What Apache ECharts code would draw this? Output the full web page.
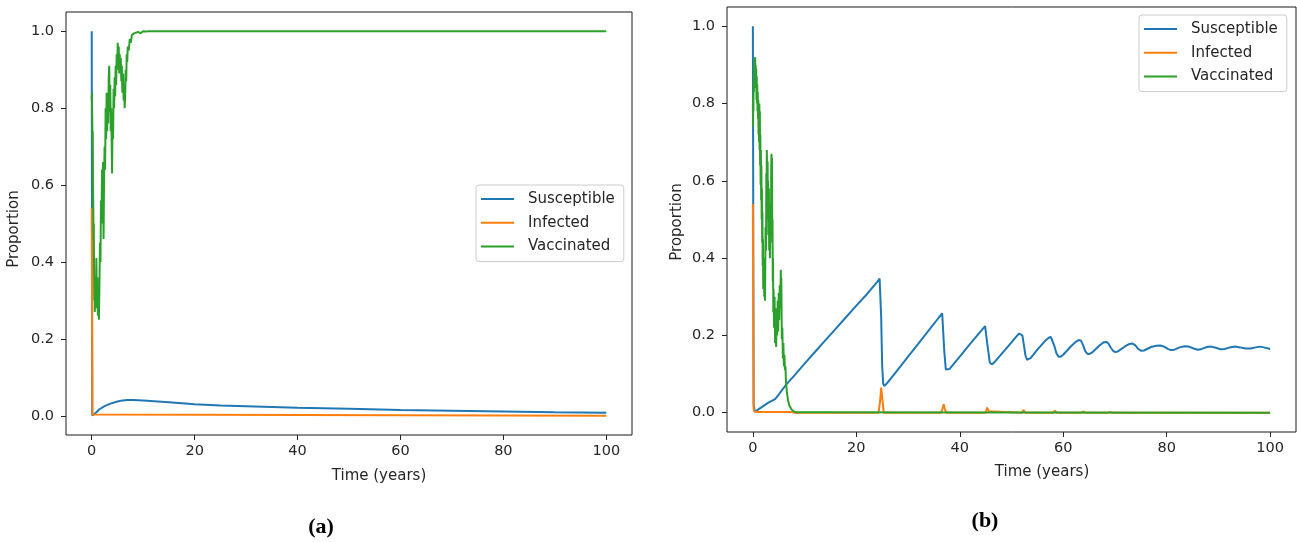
<!DOCTYPE html>
<html>
<head>
<meta charset="utf-8">
<script src="https://cdn.jsdelivr.net/npm/echarts@6/dist/echarts.min.js"></script>
<style>
html,body{margin:0;padding:0;background:#fff;}
#c{width:1297px;height:542px;}
</style>
</head>
<body>
<div id="c"></div>
<script>
// ---------- DATA ----------
var seriesNames = ['Susceptible', 'Infected', 'Vaccinated'];
var xTicks = [0, 20, 40, 60, 80, 100];
var yTicks = [0, 0.2, 0.4, 0.6, 0.8, 1.0];

// Panel (a)
var aSusceptible = [[0,1.0],[0.1,0.001],[0.3,0.0],[0.8,0.008],[1.5,0.017],[2.5,0.025],[3.5,0.031],[5,0.037],[6,0.040],[7,0.041],[8,0.041],[10,0.040],[15,0.035],[20,0.030],[25,0.027],[30,0.025],[40,0.021],[50,0.018],[60,0.015],[70,0.013],[80,0.011],[90,0.009],[100,0.008]];
var aInfected = [[0,0.54],[0.15,0.003],[0.5,0.0],[100,0.0]];
var aVaccinated = [[0,0.82],[0.03,0.84],[0.06,0.80],[0.1,0.78],[0.15,0.70],[0.2,0.74],[0.25,0.60],[0.3,0.55],[0.35,0.46],[0.4,0.50],[0.45,0.38],[0.5,0.30],[0.55,0.36],[0.6,0.27],[0.7,0.33],[0.8,0.28],[0.9,0.41],[1.0,0.30],[1.1,0.36],[1.2,0.26],[1.3,0.31],[1.4,0.25],[1.5,0.34],[1.6,0.45],[1.7,0.40],[1.8,0.56],[1.9,0.50],[2.0,0.64],[2.1,0.55],[2.2,0.66],[2.3,0.46],[2.4,0.62],[2.5,0.70],[2.6,0.64],[2.7,0.80],[2.8,0.72],[2.9,0.84],[3.0,0.74],[3.1,0.83],[3.2,0.76],[3.3,0.88],[3.4,0.91],[3.5,0.79],[3.6,0.86],[3.7,0.74],[3.8,0.80],[3.9,0.68],[3.96,0.63],[4.05,0.78],[4.15,0.72],[4.25,0.85],[4.35,0.80],[4.45,0.88],[4.55,0.83],[4.65,0.91],[4.75,0.86],[4.85,0.94],[4.95,0.90],[5.05,0.97],[5.15,0.93],[5.25,0.96],[5.35,0.89],[5.45,0.94],[5.55,0.90],[5.65,0.93],[5.75,0.87],[5.85,0.91],[5.95,0.84],[6.1,0.89],[6.2,0.82],[6.3,0.86],[6.4,0.80],[6.5,0.83],[6.6,0.90],[6.7,0.87],[6.8,0.94],[6.9,0.92],[7.0,0.96],[7.2,0.95],[7.4,0.98],[7.6,0.97],[7.8,0.99],[8.0,0.985],[8.3,0.995],[8.6,0.99],[9.0,0.998],[9.5,0.995],[10,1.0],[10.5,0.999],[11,1.0],[100,1.0]];

// Panel (b)
var bSusceptible = [[0,1.0],[0.15,0.02],[0.4,0.002],[1,0.008],[2,0.017],[3,0.026],[4.3,0.035],[5,0.047],[6.4,0.072],[8,0.096],[10,0.127],[12,0.157],[14,0.187],[16,0.217],[18,0.247],[20,0.277],[22,0.306],[24,0.338],[24.5,0.347],[24.8,0.25],[25.0,0.12],[25.2,0.075],[25.4,0.069],[25.8,0.074],[28,0.111],[30,0.145],[32,0.179],[34,0.213],[36,0.247],[36.6,0.257],[37.0,0.16],[37.3,0.112],[37.6,0.108],[38,0.113],[40,0.145],[42,0.178],[44,0.21],[44.9,0.224],[45.3,0.18],[45.8,0.13],[46.2,0.125],[46.8,0.132],[48,0.151],[50,0.182],[51.0,0.198],[51.5,0.205],[51.8,0.208],[52.1,0.200],[52.4,0.175],[52.7,0.148],[53.0,0.137],[53.3,0.136],[53.7,0.141],[55,0.163],[56.5,0.186],[57.2,0.194],[57.6,0.196],[57.9,0.192],[58.3,0.172],[58.7,0.153],[59.1,0.145],[59.5,0.145],[60.0,0.150],[61.5,0.172],[62.5,0.184],[63.0,0.188],[63.4,0.187],[63.8,0.176],[64.3,0.158],[64.7,0.152],[65.1,0.152],[65.6,0.156],[67,0.174],[67.8,0.182],[68.3,0.183],[68.7,0.180],[69.2,0.168],[69.7,0.159],[70.1,0.157],[70.5,0.158],[72,0.172],[72.8,0.178],[73.4,0.179],[73.9,0.175],[74.5,0.165],[75.1,0.160],[75.6,0.161],[77,0.170],[78,0.173],[78.8,0.174],[79.5,0.171],[80.2,0.165],[80.8,0.162],[81.5,0.163],[82.5,0.169],[83.5,0.172],[84.3,0.171],[85.2,0.166],[86,0.163],[86.8,0.165],[87.8,0.170],[88.6,0.171],[89.5,0.168],[90.4,0.164],[91.2,0.165],[92.2,0.169],[93.2,0.171],[94.2,0.169],[95.3,0.166],[96.2,0.166],[97.2,0.169],[98,0.171],[98.8,0.169],[100,0.165]];
var bInfected = [[0,0.54],[0.15,0.01],[0.3,0.003],[1,0.002],[4,0.002],[7.5,0.002],[8,0.0],[24.3,0.0],[24.6,0.03],[24.8,0.065],[25.0,0.04],[25.3,0.0],[36.4,0.0],[36.7,0.012],[36.9,0.022],[37.1,0.01],[37.4,0.0],[45.0,0.0],[45.3,0.013],[45.6,0.004],[45.9,0.0],[52.0,0.0],[52.3,0.007],[52.7,0.0],[58.0,0.0],[58.4,0.005],[58.8,0.0],[63.5,0.0],[63.9,0.003],[64.3,0.0],[68.6,0.0],[69,0.002],[69.4,0.0],[100,0.0]];
var bVaccinated = [[0,0.80],[0.03,0.74],[0.06,0.82],[0.1,0.78],[0.15,0.86],[0.2,0.83],[0.25,0.90],[0.3,0.87],[0.35,0.92],[0.4,0.89],[0.45,0.92],[0.5,0.86],[0.55,0.90],[0.6,0.84],[0.65,0.89],[0.7,0.81],[0.75,0.87],[0.8,0.80],[0.85,0.85],[0.9,0.78],[0.95,0.83],[1.0,0.76],[1.05,0.81],[1.1,0.72],[1.15,0.79],[1.2,0.70],[1.25,0.80],[1.3,0.68],[1.35,0.78],[1.4,0.64],[1.45,0.72],[1.5,0.59],[1.55,0.68],[1.6,0.55],[1.65,0.64],[1.7,0.50],[1.75,0.58],[1.8,0.44],[1.85,0.52],[1.9,0.38],[1.95,0.45],[2.0,0.32],[2.1,0.40],[2.2,0.30],[2.3,0.36],[2.35,0.29],[2.45,0.48],[2.55,0.42],[2.6,0.62],[2.65,0.55],[2.7,0.68],[2.8,0.57],[2.85,0.65],[2.9,0.50],[2.95,0.60],[3.0,0.46],[3.1,0.58],[3.15,0.42],[3.2,0.54],[3.3,0.40],[3.4,0.52],[3.5,0.46],[3.55,0.64],[3.6,0.67],[3.65,0.55],[3.7,0.66],[3.75,0.44],[3.8,0.50],[3.85,0.34],[3.9,0.40],[3.95,0.26],[4.0,0.32],[4.1,0.22],[4.2,0.30],[4.3,0.18],[4.4,0.27],[4.5,0.17],[4.6,0.25],[4.7,0.20],[4.8,0.29],[4.9,0.21],[5.0,0.31],[5.1,0.24],[5.2,0.33],[5.3,0.27],[5.4,0.37],[5.45,0.30],[5.5,0.35],[5.6,0.19],[5.7,0.22],[5.8,0.14],[5.9,0.18],[6.0,0.12],[6.1,0.15],[6.2,0.11],[6.3,0.12],[6.4,0.08],[6.5,0.065],[6.6,0.05],[6.7,0.042],[6.8,0.032],[6.9,0.026],[7.0,0.02],[7.2,0.015],[7.4,0.01],[7.6,0.007],[7.8,0.004],[8.0,0.003],[8.3,0.001],[8.6,0.0],[100,0.0]];

// ---------- CHART ----------
var colors = ['#1f77b4', '#ff7f0e', '#2ca02c'];
var FONT = 'DejaVu Sans';
var TXT = '#262626';

function xAxisCfg(gi) {
  return {
    type: 'value', gridIndex: gi, min: -5, max: 105,
    splitLine: {show: false},
    axisLine: {show: false, onZero: false},
    axisTick: {show: true, customValues: xTicks, length: 5, lineStyle: {color: '#222', width: 1}},
    axisLabel: {customValues: xTicks, margin: 9, fontSize: 14.5, fontFamily: FONT, color: TXT}
  };
}
function yAxisCfg(gi) {
  return {
    type: 'value', gridIndex: gi, min: -0.05, max: 1.05,
    splitLine: {show: false},
    axisLine: {show: false, onZero: false},
    axisTick: {show: true, customValues: yTicks, length: 5, lineStyle: {color: '#222', width: 1}},
    axisLabel: {customValues: yTicks, margin: 12, fontSize: 14.5, fontFamily: FONT, color: TXT,
      formatter: function (v) { return v.toFixed(1); }}
  };
}
function lineSeries(name, data, idx, gi) {
  return {
    type: 'line', name: name, data: data, xAxisIndex: gi, yAxisIndex: gi,
    showSymbol: false, symbol: 'none', smooth: false,
    lineStyle: {color: colors[idx], width: 2},
    itemStyle: {color: colors[idx]},
    z: 2 + idx, animation: false
  };
}
function legendCfg(left, top) {
  return {
    data: seriesNames, orient: 'vertical', left: left, top: top,
    icon: 'rect', itemWidth: 33, itemHeight: 2, itemGap: 7.8,
    padding: [6, 9, 7, 5],
    backgroundColor: 'rgba(255,255,255,0.85)', borderColor: '#cccccc', borderWidth: 1, borderRadius: 3,
    textStyle: {fontFamily: FONT, fontSize: 15, lineHeight: 16, color: TXT, padding: [0, 0, 0, 9]},
    selectedMode: false
  };
}

var chart = echarts.init(document.getElementById('c'), null, {renderer: 'canvas'});
chart.setOption({
  animation: false,
  backgroundColor: '#ffffff',
  color: colors,
  grid: [
    {left: 66, top: 12, width: 566, height: 423, show: true, borderColor: '#1a1a1a', borderWidth: 1, backgroundColor: 'transparent', containLabel: false},
    {left: 727, top: 7, width: 569, height: 425, show: true, borderColor: '#1a1a1a', borderWidth: 1, backgroundColor: 'transparent', containLabel: false}
  ],
  xAxis: [xAxisCfg(0), xAxisCfg(1)],
  yAxis: [yAxisCfg(0), yAxisCfg(1)],
  legend: [legendCfg(476, 185), legendCfg(1139, 15)],
  series: [
    lineSeries('Susceptible', aSusceptible, 0, 0),
    lineSeries('Infected', aInfected, 1, 0),
    lineSeries('Vaccinated', aVaccinated, 2, 0),
    lineSeries('Susceptible', bSusceptible, 0, 1),
    lineSeries('Infected', bInfected, 1, 1),
    lineSeries('Vaccinated', bVaccinated, 2, 1)
  ],
  graphic: [
    {type: 'text', x: 14, y: 229, rotation: Math.PI / 2, style: {text: 'Proportion', fontFamily: FONT, fontSize: 15, fill: TXT, align: 'center', verticalAlign: 'middle'}},
    {type: 'text', x: 677, y: 222, rotation: Math.PI / 2, style: {text: 'Proportion', fontFamily: FONT, fontSize: 15, fill: TXT, align: 'center', verticalAlign: 'middle'}},
    {type: 'text', x: 379, y: 476, style: {text: 'Time (years)', fontFamily: FONT, fontSize: 15, fill: TXT, align: 'center', verticalAlign: 'middle'}},
    {type: 'text', x: 1042, y: 472, style: {text: 'Time (years)', fontFamily: FONT, fontSize: 15, fill: TXT, align: 'center', verticalAlign: 'middle'}},
    {type: 'text', x: 321, y: 527, style: {text: '(a)', fontFamily: 'Liberation Serif', fontWeight: 'bold', fontSize: 22, fill: '#000', align: 'center', verticalAlign: 'middle'}},
    {type: 'text', x: 985, y: 521, style: {text: '(b)', fontFamily: 'Liberation Serif', fontWeight: 'bold', fontSize: 22, fill: '#000', align: 'center', verticalAlign: 'middle'}}
  ]
});
</script>
</body>
</html>
